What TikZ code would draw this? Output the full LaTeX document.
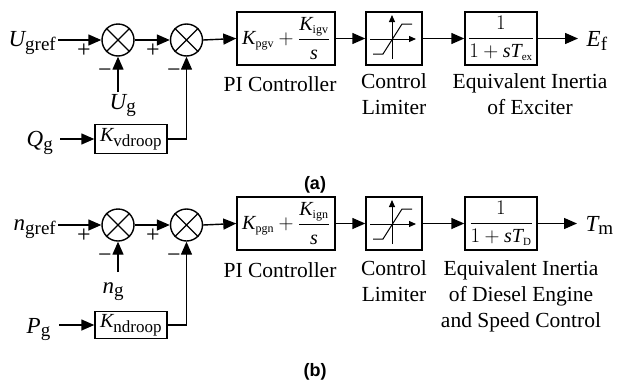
\documentclass[tikz,border=0pt]{standalone}
\usepackage{fontspec}
\setmainfont{Liberation Serif}
\setsansfont{Liberation Sans}
\usetikzlibrary{arrows.meta}
\newcommand\iv[1]{\hbox{\itshape #1}}
\newcommand\sbx[2]{_{\hbox{\fontsize{#1}{#1}\selectfont #2}}}
\begin{document}
\begin{tikzpicture}[x=1pt,y=-1pt,line width=1.4pt,
  arr/.style={-{Triangle[length=13pt,width=11pt]}},
  sarr/.style={line width=1pt,-{Triangle[length=7pt,width=6pt]}},
  sumc/.style={circle,draw,minimum size=32pt,inner sep=0pt},
  blk/.style={draw,inner sep=0pt,font=\fontsize{20}{24}\selectfont},
  mth/.style={inner sep=0pt,font=\fontsize{23}{27}\selectfont},
  lbl/.style={inner sep=0pt,anchor=base,font=\fontsize{21.5}{26}\selectfont},
  sgn/.style={inner sep=0pt,font=\fontsize{24}{28}\selectfont},
  figlbl/.style={inner sep=0pt,font=\sffamily\bfseries\fontsize{18}{20}\selectfont}]
\useasboundingbox (0,0) rectangle (624,381);

% ---------------- (a) ----------------
\node[sumc] (s1) at (118,40) {};
\node[sumc] (s2) at (186.5,40) {};
\foreach \s in {s1,s2}{\draw (\s.north west) -- (\s.south east) (\s.north east) -- (\s.south west);}
\node[mth,anchor=base east] (ugref) at (57,46) {$\iv{U}\sbx{19}{gref}$};
\node[sgn] (p1) at (84,51) {+};
\node[sgn] (p2) at (153,51) {+};
\node[sgn] (m1) at (105,73) {−};
\node[sgn] (m2) at (174,73) {−};
\node[mth,anchor=base west] (ug) at (109,109) {$\iv{U}\sbx{19}{g}$};
\coordinate (ugtop) at (118,92);
\node[mth,anchor=base west] (qg) at (26,146) {$\iv{Q}\sbx{19}{g}$};
\node[blk,minimum width=72pt,minimum height=29pt] (kv) at (131,139) {$\iv{K}\sbx{17}{vdroop}$};
\node[blk,minimum width=98pt,minimum height=53pt] (pi) at (286,38.5)
  {$\iv{K}\sbx{12}{pgv}+{\displaystyle\frac{\iv{K}\sbx{12}{igv}}{\iv{s}}}$};
\node[blk,minimum width=56pt,minimum height=53pt] (lim) at (394,38.5) {};
\node[blk,minimum width=72pt,minimum height=53pt] (tf) at (501,38.5)
  {${\displaystyle\frac{1}{1+\iv{s}\iv{T}\sbx{11}{ex}}}$};
\node[mth,anchor=base west] (ef) at (586,46) {$\iv{E}\sbx{19}{f}$};

\draw[arr] ([xshift=1pt]ugref.east |- s1) -- (s1.west);
\draw[arr] (s1.east) -- (s2.west);
\draw[arr] (ugtop) -- (s1.south);
\draw[arr] ([xshift=6pt]qg.east |- kv) -- (kv.west);
\draw[arr] (kv.east) -| (s2.south);
\draw[arr] (s2.east) -- (pi.west);
\draw[arr] (pi.east) -- (lim.west);
\draw[arr] (lim.east) -- (tf.west);
\draw[arr] (tf.east) -- ([xshift=-8pt]ef.west |- tf);

\begin{scope}[shift={(lim.center)}]
  \draw[sarr] (-2,20.5) -- (-2,-23.5);
  \draw[sarr] (-24,0.5) -- (22,0.5);
  \draw[line width=1pt] (-21,15.5) -- (-11,15.5) -- (8,-14.5) -- (18,-14.5);
\end{scope}

\node[lbl] (pil) at (280,91) {PI Controller};
\node[lbl] (cl1) at (394,88) {Control};
\node[lbl] (cl2) at (394,114) {Limiter};
\node[lbl] (el1) at (530,88) {Equivalent Inertia};
\node[lbl] (el2) at (530,114) {of Exciter};
\node[figlbl] (la) at (315,185) {(a)};

% ---------------- (b) ----------------
\node[sumc] (t1) at (118,225) {};
\node[sumc] (t2) at (186.5,225) {};
\foreach \s in {t1,t2}{\draw (\s.north west) -- (\s.south east) (\s.north east) -- (\s.south west);}
\node[mth,anchor=base east] (ngref) at (57,230) {$\iv{n}\sbx{19}{gref}$};
\node[sgn] (q1) at (84,236) {+};
\node[sgn] (q2) at (153,236) {+};
\node[sgn] (n1) at (105,258) {−};
\node[sgn] (n2) at (174,258) {−};
\node[mth,anchor=base west] (ng) at (102,293) {$\iv{n}\sbx{19}{g}$};
\coordinate (ngtop) at (118,272);
\node[mth,anchor=base west] (pg) at (26,333) {$\iv{P}\sbx{19}{g}$};
\node[blk,minimum width=72pt,minimum height=27pt] (kn) at (131,325) {$\iv{K}\sbx{17}{ndroop}$};
\node[blk,minimum width=98pt,minimum height=53pt] (pib) at (286,223.5)
  {$\iv{K}\sbx{12}{pgn}+{\displaystyle\frac{\iv{K}\sbx{12}{ign}}{\iv{s}}}$};
\node[blk,minimum width=56pt,minimum height=53pt] (limb) at (394,223.5) {};
\node[blk,minimum width=72pt,minimum height=53pt] (tfb) at (501,223.5)
  {${\displaystyle\frac{1}{1+\iv{s}\iv{T}\sbx{11}{D}}}$};
\node[mth,anchor=base west] (tm) at (585,231) {$\iv{T}\sbx{19}{m}$};

\draw[arr] ([xshift=1pt]ngref.east |- t1) -- (t1.west);
\draw[arr] (t1.east) -- (t2.west);
\draw[arr] (ngtop) -- (t1.south);
\draw[arr] ([xshift=8pt]pg.east |- kn) -- (kn.west);
\draw[arr] (kn.east) -| (t2.south);
\draw[arr] (t2.east) -- (pib.west);
\draw[arr] (pib.east) -- (limb.west);
\draw[arr] (limb.east) -- (tfb.west);
\draw[arr] (tfb.east) -- ([xshift=-8pt]tm.west |- tfb);

\begin{scope}[shift={(limb.center)}]
  \draw[sarr] (-2,20.5) -- (-2,-23.5);
  \draw[sarr] (-24,0.5) -- (22,0.5);
  \draw[line width=1pt] (-21,15.5) -- (-11,15.5) -- (8,-14.5) -- (18,-14.5);
\end{scope}

\node[lbl] (pilb) at (280,277) {PI Controller};
\node[lbl] (cl1b) at (394,275) {Control};
\node[lbl] (cl2b) at (394,301) {Limiter};
\node[lbl] (el1b) at (521,275) {Equivalent Inertia};
\node[lbl] (el2b) at (521,301) {of Diesel Engine};
\node[lbl] (el3b) at (521,327) {and Speed Control};
\node[figlbl] (lb) at (315,372) {(b)};
\end{tikzpicture}
\end{document}
